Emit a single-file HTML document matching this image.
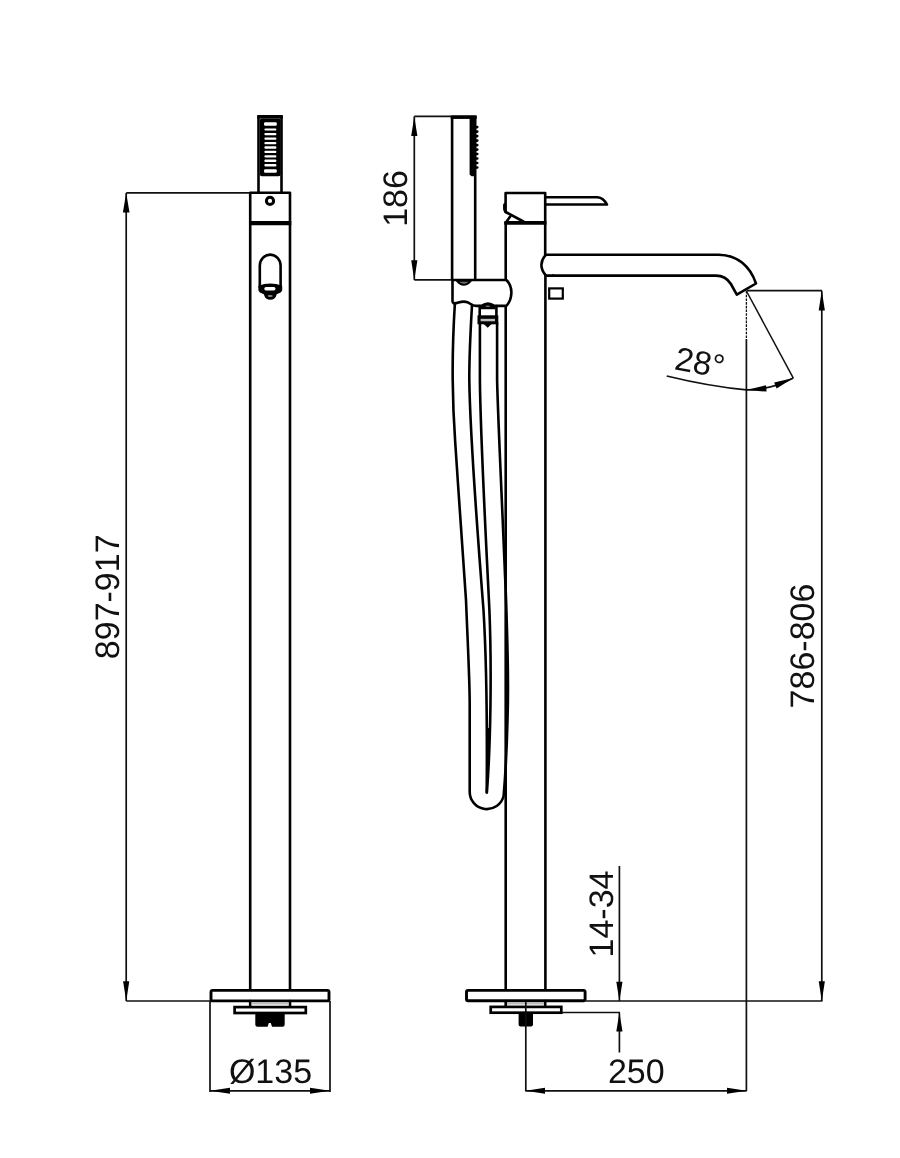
<!DOCTYPE html>
<html><head><meta charset="utf-8">
<style>
html,body{margin:0;padding:0;background:#fff;}
body{width:900px;height:1158px;overflow:hidden;}
svg{display:block;will-change:transform;}
text{font-family:"Liberation Sans",sans-serif;fill:#111;text-rendering:geometricPrecision;}
.k{stroke:#000;stroke-width:2.6;fill:none;stroke-linejoin:round;stroke-linecap:round;}
.t{stroke:#101010;stroke-width:1.7;fill:none;}
.a{fill:#000;stroke:none;}
</style></head><body>
<svg width="900" height="1158" viewBox="0 0 900 1158">
<rect width="900" height="1158" fill="#fff"/>

<!-- ================= LEFT VIEW (front) ================= -->
<g id="front">
<!-- hand shower -->
<path class="k" d="M258.5 192 V116.8 H281.5 V192"/>
<rect x="257.2" y="115" width="25.6" height="3.6" fill="#000"/>
<rect x="259.8" y="118.6" width="20.8" height="57.6" rx="2" fill="#000"/>
<g fill="#fff">
<rect x="264" y="122.2" width="12.8" height="3.6" rx="1.3"/>
<rect x="264.4" y="128.4" width="12" height="2.2" rx="1"/>
<rect x="264.4" y="132.9" width="12" height="2.4" rx="1"/>
<rect x="264.4" y="137.4" width="12" height="2.4" rx="1"/>
<rect x="264.4" y="141.9" width="12" height="2.4" rx="1"/>
<rect x="264.4" y="146.3" width="12" height="2.4" rx="1"/>
<rect x="264.4" y="150.7" width="12" height="2.4" rx="1"/>
<rect x="264.4" y="155.2" width="12" height="2.4" rx="1"/>
<rect x="264.4" y="159.6" width="12" height="2.4" rx="1"/>
<rect x="264.4" y="164.1" width="12" height="2.4" rx="1"/>
<rect x="264" y="169.2" width="12.8" height="3.6" rx="1.3"/>
</g>
<!-- body -->
<path class="k" d="M250.2 1001 V192.7 H290 V1001"/>
<line x1="249" y1="223.2" x2="291.3" y2="223.2" stroke="#000" stroke-width="4.2"/>
<circle cx="270" cy="200.9" r="3.6" fill="none" stroke="#000" stroke-width="3"/>
<!-- spout front -->
<path class="k" d="M259.8 287 V265.6 A10.4 11 0 0 1 280.6 265.6 V287"/>
<path d="M258.4 285.8 Q270.3 281.3 282.2 285.8 V290.3 Q281.8 292.6 276.8 294.2 Q275.3 299.8 270.3 299.8 Q265.3 299.8 263.8 294.2 Q258.8 292.6 258.4 290.3 Z" fill="#000"/>
<rect x="264.3" y="287" width="11.2" height="3.5" rx="1.7" fill="#fff"/>
<ellipse cx="270.2" cy="296" rx="2.6" ry="1" fill="#8a8a8a"/>
<!-- base -->
<rect class="k" style="fill:#fff;stroke-width:2.9" x="211" y="990.4" width="118" height="10.5" rx="1.5"/>
<path class="k" d="M250.2 1001 V1005.5 M290 1001 V1005.5"/>
<rect x="251.5" y="1002.3" width="37" height="2.2" fill="#bbb"/>
<rect x="234.6" y="1007.1" width="71.2" height="5.9" fill="#fff" stroke="#000" stroke-width="2.7"/>
<path d="M255.3 1014 H284.7 V1024.6 Q284.7 1026.8 282.5 1026.8 H272 L270.8 1023 H268.8 L267.6 1026.8 H257.5 Q255.3 1026.8 255.3 1024.6 Z" fill="#000"/>
</g>

<!-- left dims -->
<g id="dimsL">
<line class="t" x1="126.2" y1="192.9" x2="250" y2="192.9"/>
<line class="t" x1="126.2" y1="192.9" x2="126.2" y2="1001"/>
<line class="t" x1="126.2" y1="1001" x2="210" y2="1001"/>
<path class="a" d="M126.2 192.9 L129.5 212.5 H122.9 Z"/>
<path class="a" d="M126.2 1001 L129.3 981.3 H123.1 Z"/>
<text transform="translate(118.8,596.8) rotate(-90)" font-size="34" text-anchor="middle">897-917</text>
<line class="t" x1="210" y1="1001" x2="210" y2="1092"/>
<line class="t" x1="330" y1="1001" x2="330" y2="1092"/>
<line class="t" x1="210" y1="1090.8" x2="330" y2="1090.8"/>
<path class="a" d="M210 1090.8 L230 1087.8 V1093.8 Z"/>
<path class="a" d="M330 1090.8 L310 1087.8 V1093.8 Z"/>
<text x="270.5" y="1082.5" font-size="34" text-anchor="middle">Ø135</text>
</g>

<!-- ================= RIGHT VIEW (side) ================= -->
<g id="side">
<!-- hand shower side -->
<path class="k" d="M452.1 280 V117 H475.2 V280"/>
<rect x="450.7" y="115.3" width="26" height="3.6" fill="#000"/>
<path d="M469.6 118 H476 V176.3 H471.5 L469.6 174.5 Z" fill="#000"/>
<g stroke="#000" stroke-width="2.7" stroke-linecap="round">
<line x1="474" y1="127.1" x2="477.2" y2="127.1"/>
<line x1="474" y1="131.6" x2="477.2" y2="131.6"/>
<line x1="474" y1="136.1" x2="477.2" y2="136.1"/>
<line x1="474" y1="140.6" x2="477.2" y2="140.6"/>
<line x1="474" y1="145.1" x2="477.2" y2="145.1"/>
<line x1="474" y1="149.6" x2="477.2" y2="149.6"/>
<line x1="474" y1="154.0" x2="477.2" y2="154.0"/>
<line x1="474" y1="158.5" x2="477.2" y2="158.5"/>
<line x1="474" y1="163.0" x2="477.2" y2="163.0"/>
<line x1="474" y1="167.5" x2="477.2" y2="167.5"/>
</g>
<!-- handle body -->
<path class="k" d="M505.6 212 V193 H545.2 V255.5 M545.4 275.6 V1001"/>
<path d="M503.6 204.5 Q503.6 203 505.6 203 V212.5 Q503.6 211.5 503.6 209.5 Z" fill="#000" stroke="#000" stroke-width="1"/>
<path class="k" d="M505.6 212 L523.4 221.5"/>
<path class="k" d="M510.2 216.5 L505.6 223"/>
<line x1="504.4" y1="222.9" x2="546.5" y2="222.9" stroke="#000" stroke-width="3.8"/>
<!-- lever -->
<path class="k" d="M546 197.2 H597.5 Q603.5 197.8 607 204.5 H546"/>
<!-- column left -->
<path class="k" d="M505.7 223 V1001"/>
<!-- spout -->
<path class="k" d="M546.5 254.8 H718.7 C737 254.8 750 266 756 283.5 L736.8 294.7 L730.9 284 C727.5 278.5 723 275.6 716 275.6 H553"/>
<path class="k" d="M545.2 255.5 Q541.4 260 541.4 265 Q541.4 270.5 546 275.6 H553"/>
<rect x="549.2" y="288.4" width="13.6" height="10.2" fill="#fff" stroke="#000" stroke-width="2.2"/>
<!-- holder -->
<path class="k" style="fill:#fff" d="M452.5 280 H506.3 C509 282.5 511.4 287 511.4 292.6 C511.4 298 509 303 506.3 305.9 H494.2 Q488 301.3 481.7 305.9 H476 C472 305.9 470.5 303.5 467.5 302.2 Q463.5 300.9 458.5 302.6 Q455.5 303.6 453.6 303.4 Q452.5 303 452.5 301 Z"/>
<path d="M457 280.8 Q463.6 288.8 470.8 280.8 Z" fill="#6a6a6a" stroke="#000" stroke-width="2" stroke-linejoin="round"/>
<!-- connector -->
<path d="M481 309.3 V306 Q488 300.8 495.2 306 V309.3 Z" fill="#000"/>
<ellipse cx="487.8" cy="306.2" rx="2.4" ry="0.8" fill="#777"/>
<path class="k" d="M479.7 306 V316 M496.4 306 V316"/>
<rect x="477.5" y="315.3" width="20.8" height="9" fill="#000"/>
<rect x="480.6" y="318.8" width="14.4" height="2.5" fill="#bdbdbd"/>
<path d="M483.8 324 H491.6 L487.7 327.8 Z" fill="#000"/>
<!-- hose -->
<path class="k" d="M454.9 303 C452.6 340 452.5 360 452.7 380 C453 410 454 425 455.2 442 C459 500 464 570 466 600 C468 650 469.7 680 469.7 704 V792 A17.2 17.2 0 0 0 503.6 796 C505 780 506.5 760 507.5 720 Q508.5 690 507.5 650 Q506.3 600 505 575 C502 500 498 420 497.1 380 V323"/>
<path class="k" d="M472 305 C470 340 469.2 360 469.3 380 C470 430 478 540 483.5 610 C486.5 660 487.3 720 486.7 792.5"/>
<path class="k" d="M479.9 323 V380 C480.5 440 487 560 489.4 610 C491.8 670 490.6 745 486.9 792.5"/>
<path d="M486.8 728 L490.2 728 L487.2 792 L486.4 792 Z" fill="#000"/>
<!-- base -->
<rect class="k" style="fill:#fff;stroke-width:2.9" x="466.5" y="990.4" width="118.6" height="10.3" rx="1.5"/>
<path class="k" d="M505.7 1001 V1006 M545.2 1001 V1006"/>
<rect x="507" y="1002.3" width="37" height="2.2" fill="#bbb"/>
<rect x="490.7" y="1006.9" width="70.6" height="5.8" fill="#fff" stroke="#000" stroke-width="2.7"/>
<path d="M518.6 1014 H533 V1024.6 Q533 1026.6 531 1026.6 H520.6 Q518.6 1026.6 518.6 1024.6 Z" fill="#000"/>
</g>

<!-- right dims -->
<g id="dimsR">
<!-- 186 -->
<line class="t" x1="414.3" y1="116.4" x2="451" y2="116.4"/>
<line class="t" x1="414.3" y1="279.9" x2="452" y2="279.9"/>
<line class="t" x1="414.3" y1="116.4" x2="414.3" y2="279.9"/>
<path class="a" d="M414.3 116.4 L417.4 136 H411.2 Z"/>
<path class="a" d="M414.3 279.9 L417.4 260.3 H411.2 Z"/>
<text transform="translate(407.4,198.5) rotate(-90)" font-size="34" text-anchor="middle">186</text>
<!-- spout dims -->
<line class="t" x1="746.7" y1="290.7" x2="822" y2="290.7"/>
<line class="t" x1="821.8" y1="290.7" x2="821.8" y2="1001"/>
<path class="a" d="M821.8 290.7 L824.9 310.5 H818.7 Z"/>
<path class="a" d="M821.8 1001 L824.9 981.3 H818.7 Z"/>
<line class="t" x1="586" y1="1001" x2="822.4" y2="1001"/>
<line class="t" x1="746.4" y1="291" x2="746.4" y2="339" style="stroke-width:1.3" stroke-dasharray="2.6 1.1"/>
<line class="t" x1="746.4" y1="339" x2="746.4" y2="1091"/>
<line class="t" x1="746.4" y1="291" x2="793.3" y2="378.1" style="stroke-width:1.5"/>
<path class="t" d="M666.7 376 Q710 386.5 746.4 389.9 A99 99 0 0 0 793.3 378.1"/>
<path class="a" d="M746.6 390 L766 385.2 L766.6 391.6 Z"/>
<path class="a" d="M793.3 378.1 L776.6 388.4 L774.2 382.4 Z"/>
<text transform="translate(698,373.6) rotate(10)" font-size="33" text-anchor="middle">28°</text>
<text transform="translate(814.2,646) rotate(-90)" font-size="34" text-anchor="middle">786-806</text>
<!-- 14-34 -->
<line class="t" x1="619.4" y1="866" x2="619.4" y2="1001"/>
<path class="a" d="M619.4 1001 L622.5 981.8 H616.3 Z"/>
<line class="t" x1="561.8" y1="1012.5" x2="620" y2="1012.5"/>
<line class="t" x1="619.4" y1="1012.5" x2="619.4" y2="1052.5"/>
<path class="a" d="M619.4 1012.5 L622.5 1031.5 H616.3 Z"/>
<text transform="translate(613.2,914) rotate(-90)" font-size="34" text-anchor="middle">14-34</text>
<!-- 250 -->
<line class="t" x1="525.8" y1="1002" x2="525.8" y2="1091.3"/>
<line class="t" x1="525.6" y1="1090.8" x2="746.7" y2="1090.8"/>
<path class="a" d="M525.6 1090.8 L545 1087.8 V1093.8 Z"/>
<path class="a" d="M746.7 1090.8 L727 1087.8 V1093.8 Z"/>
<text x="636.3" y="1083.3" font-size="34" text-anchor="middle">250</text>
</g>
</svg>
</body></html>
